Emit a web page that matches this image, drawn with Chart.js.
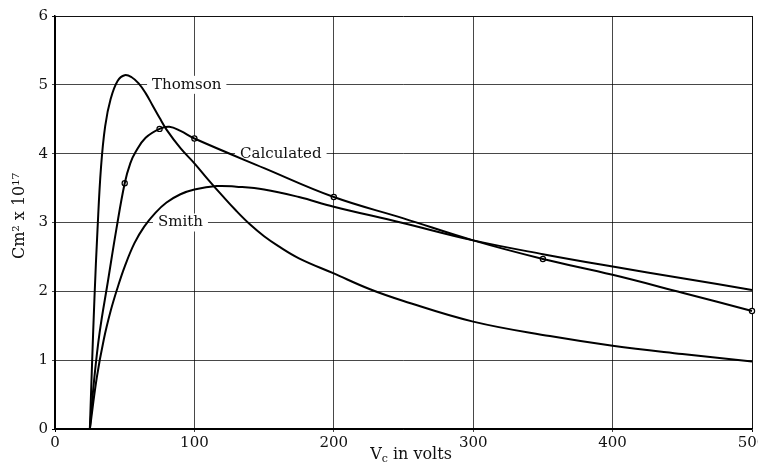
<!DOCTYPE html>
<html>
<head>
<meta charset="utf-8">
<script src="https://cdn.jsdelivr.net/npm/chart.js@4/dist/chart.umd.min.js"></script>
<style>
  html, body { margin: 0; padding: 0; background: #fff; }
  #wrap { width: 758px; height: 468px; }
</style>
</head>
<body>
<div id="wrap"><canvas id="chart"></canvas></div>
<script>
// valeurs (V en volts, section efficace x 10^17)
const thomsonX = [25, 26.5, 28.3, 30.5, 33, 36, 40, 45, 50, 55, 60, 65, 70, 75, 80, 90, 100, 110, 120, 130, 140, 150, 160, 175, 200, 226, 250, 300, 355, 400, 450, 500];
const thomsonY = [0, 0.9, 1.9, 2.9, 3.8, 4.4, 4.8, 5.06, 5.14, 5.11, 5.02, 4.88, 4.7, 4.52, 4.35, 4.08, 3.86, 3.62, 3.39, 3.17, 2.97, 2.8, 2.66, 2.48, 2.26, 2.03, 1.86, 1.56, 1.35, 1.21, 1.09, 0.98];

const smithX = [25, 30, 35, 40, 45, 50, 57, 64, 72, 80, 90, 100, 116, 130, 150, 175, 200, 248, 300, 350, 400, 450, 500];
const smithY = [0, 0.75, 1.3, 1.72, 2.06, 2.36, 2.7, 2.94, 3.14, 3.29, 3.41, 3.48, 3.53, 3.52, 3.48, 3.37, 3.23, 3.0, 2.74, 2.54, 2.36, 2.19, 2.02];

const calcX = [25, 28, 32, 38, 44, 50, 54, 58, 65, 75, 82, 90, 100, 150, 200, 250, 300, 350, 400, 450, 500];
const calcY = [0, 0.7, 1.4, 2.15, 2.9, 3.57, 3.86, 4.03, 4.23, 4.36, 4.39, 4.33, 4.22, 3.79, 3.37, 3.06, 2.74, 2.47, 2.24, 1.98, 1.715];

// points mesurés (cercles)
const calcMarkX = [50, 75, 100, 200, 350, 500];
const calcMarkY = [3.57, 4.36, 4.22, 3.37, 2.47, 1.715];

const xTicks = [0, 100, 200, 300, 400, 500];
const yTicks = [0, 1, 2, 3, 4, 5, 6];

const curveLabels = [
  { text: 'Thomson', x: 94.5, y: 5 },
  { text: 'Calculated', x: 162, y: 4 },
  { text: 'Smith', x: 90, y: 3 }
];

const toPoints = (xs, ys) => xs.map((x, i) => ({ x: x, y: ys[i] }));
const FONT = 'DejaVu Serif';

// étiquettes des courbes sur fond blanc (coupent la grille)
const labelPlugin = {
  id: 'curveLabels',
  beforeDatasetsDraw(chart) {
    const ctx = chart.ctx;
    const xs = chart.scales.x, ys = chart.scales.y;
    ctx.save();
    ctx.font = '15px "' + FONT + '"';
    ctx.textAlign = 'center';
    ctx.textBaseline = 'middle';
    curveLabels.forEach(l => {
      const px = xs.getPixelForValue(l.x);
      const py = ys.getPixelForValue(l.y);
      const w = ctx.measureText(l.text).width;
      ctx.fillStyle = '#fff';
      ctx.fillRect(px - w / 2 - 5, py - 9, w + 10, 18);
      ctx.fillStyle = '#111';
      ctx.fillText(l.text, px, py);
    });
    ctx.restore();
  }
};

// titres des axes (indice et exposants)
const titlePlugin = {
  id: 'axisTitles',
  afterDraw(chart) {
    const ctx = chart.ctx;
    ctx.save();
    ctx.fillStyle = '#111';
    ctx.textBaseline = 'alphabetic';
    // axe x : V_c in volts
    const part1 = 'V';
    const part3 = ' in volts';
    ctx.font = '16px "' + FONT + '"';
    const w1 = ctx.measureText(part1).width;
    const w3 = ctx.measureText(part3).width;
    ctx.font = '11px "' + FONT + '"';
    const w2 = ctx.measureText('c').width;
    const x0 = 411 - (w1 + w2 + w3) / 2;
    const base = 459;
    ctx.font = '16px "' + FONT + '"';
    ctx.fillText(part1, x0, base);
    ctx.font = '11px "' + FONT + '"';
    ctx.fillText('c', x0 + w1, base + 3);
    ctx.font = '16px "' + FONT + '"';
    ctx.fillText(part3, x0 + w1 + w2, base);
    // axe y
    ctx.translate(20, 216);
    ctx.rotate(-Math.PI / 2);
    ctx.textAlign = 'center';
    ctx.textBaseline = 'middle';
    ctx.font = '16px "' + FONT + '"';
    ctx.fillText('Cm\u00B2 x 10\u00B9\u2077', 0, 0);
    ctx.restore();
  }
};

const gridColor = ctx => (ctx.index === 0 ? '#000' : (ctx.tick && (ctx.tick.value === 500 || ctx.tick.value === 6) ? '#111' : 'rgba(0,0,0,0.72)'));

const curve = (label, xs, ys) => ({
  label: label,
  data: toPoints(xs, ys),
  borderColor: '#000',
  borderWidth: 2,
  pointRadius: 0,
  tension: 0.4
});

new Chart(document.getElementById('chart'), {
  type: 'line',
  data: {
    datasets: [
      curve('Thomson', thomsonX, thomsonY),
      curve('Smith', smithX, smithY),
      curve('Calculated', calcX, calcY),
      {
        label: 'Calculated points',
        data: toPoints(calcMarkX, calcMarkY),
        showLine: false,
        pointRadius: 2.6,
        pointBackgroundColor: '#fff',
        pointBorderColor: '#000',
        pointBorderWidth: 1.2
      }
    ]
  },
  options: {
    responsive: true,
    maintainAspectRatio: false,
    animation: false,
    clip: false,
    layout: { padding: { top: 16, right: 6, left: 0, bottom: 0 } },
    plugins: {
      legend: { display: false },
      tooltip: { enabled: false }
    },
    scales: {
      x: {
        type: 'linear',
        min: 0,
        max: 500,
        afterBuildTicks: s => { s.ticks = xTicks.map(v => ({ value: v })); },
        afterFit: s => { s.height = 39; s.paddingLeft = 0; s.paddingRight = 0; },
        grid: { color: gridColor, lineWidth: 1, tickLength: 3 },
        border: { color: '#000', width: 1.5 },
        ticks: {
          color: '#111',
          padding: 2,
          maxRotation: 0,
          font: { family: FONT, size: 15 }
        }
      },
      y: {
        type: 'linear',
        min: 0,
        max: 6,
        afterBuildTicks: s => { s.ticks = yTicks.map(v => ({ value: v })); },
        afterFit: s => { s.width = 55; s.paddingTop = 0; s.paddingBottom = 0; },
        grid: { color: gridColor, lineWidth: 1, tickLength: 3 },
        border: { color: '#000', width: 1.5 },
        ticks: {
          color: '#111',
          padding: 4,
          font: { family: FONT, size: 15 }
        }
      }
    }
  },
  plugins: [labelPlugin, titlePlugin]
});
</script>
</body>
</html>
